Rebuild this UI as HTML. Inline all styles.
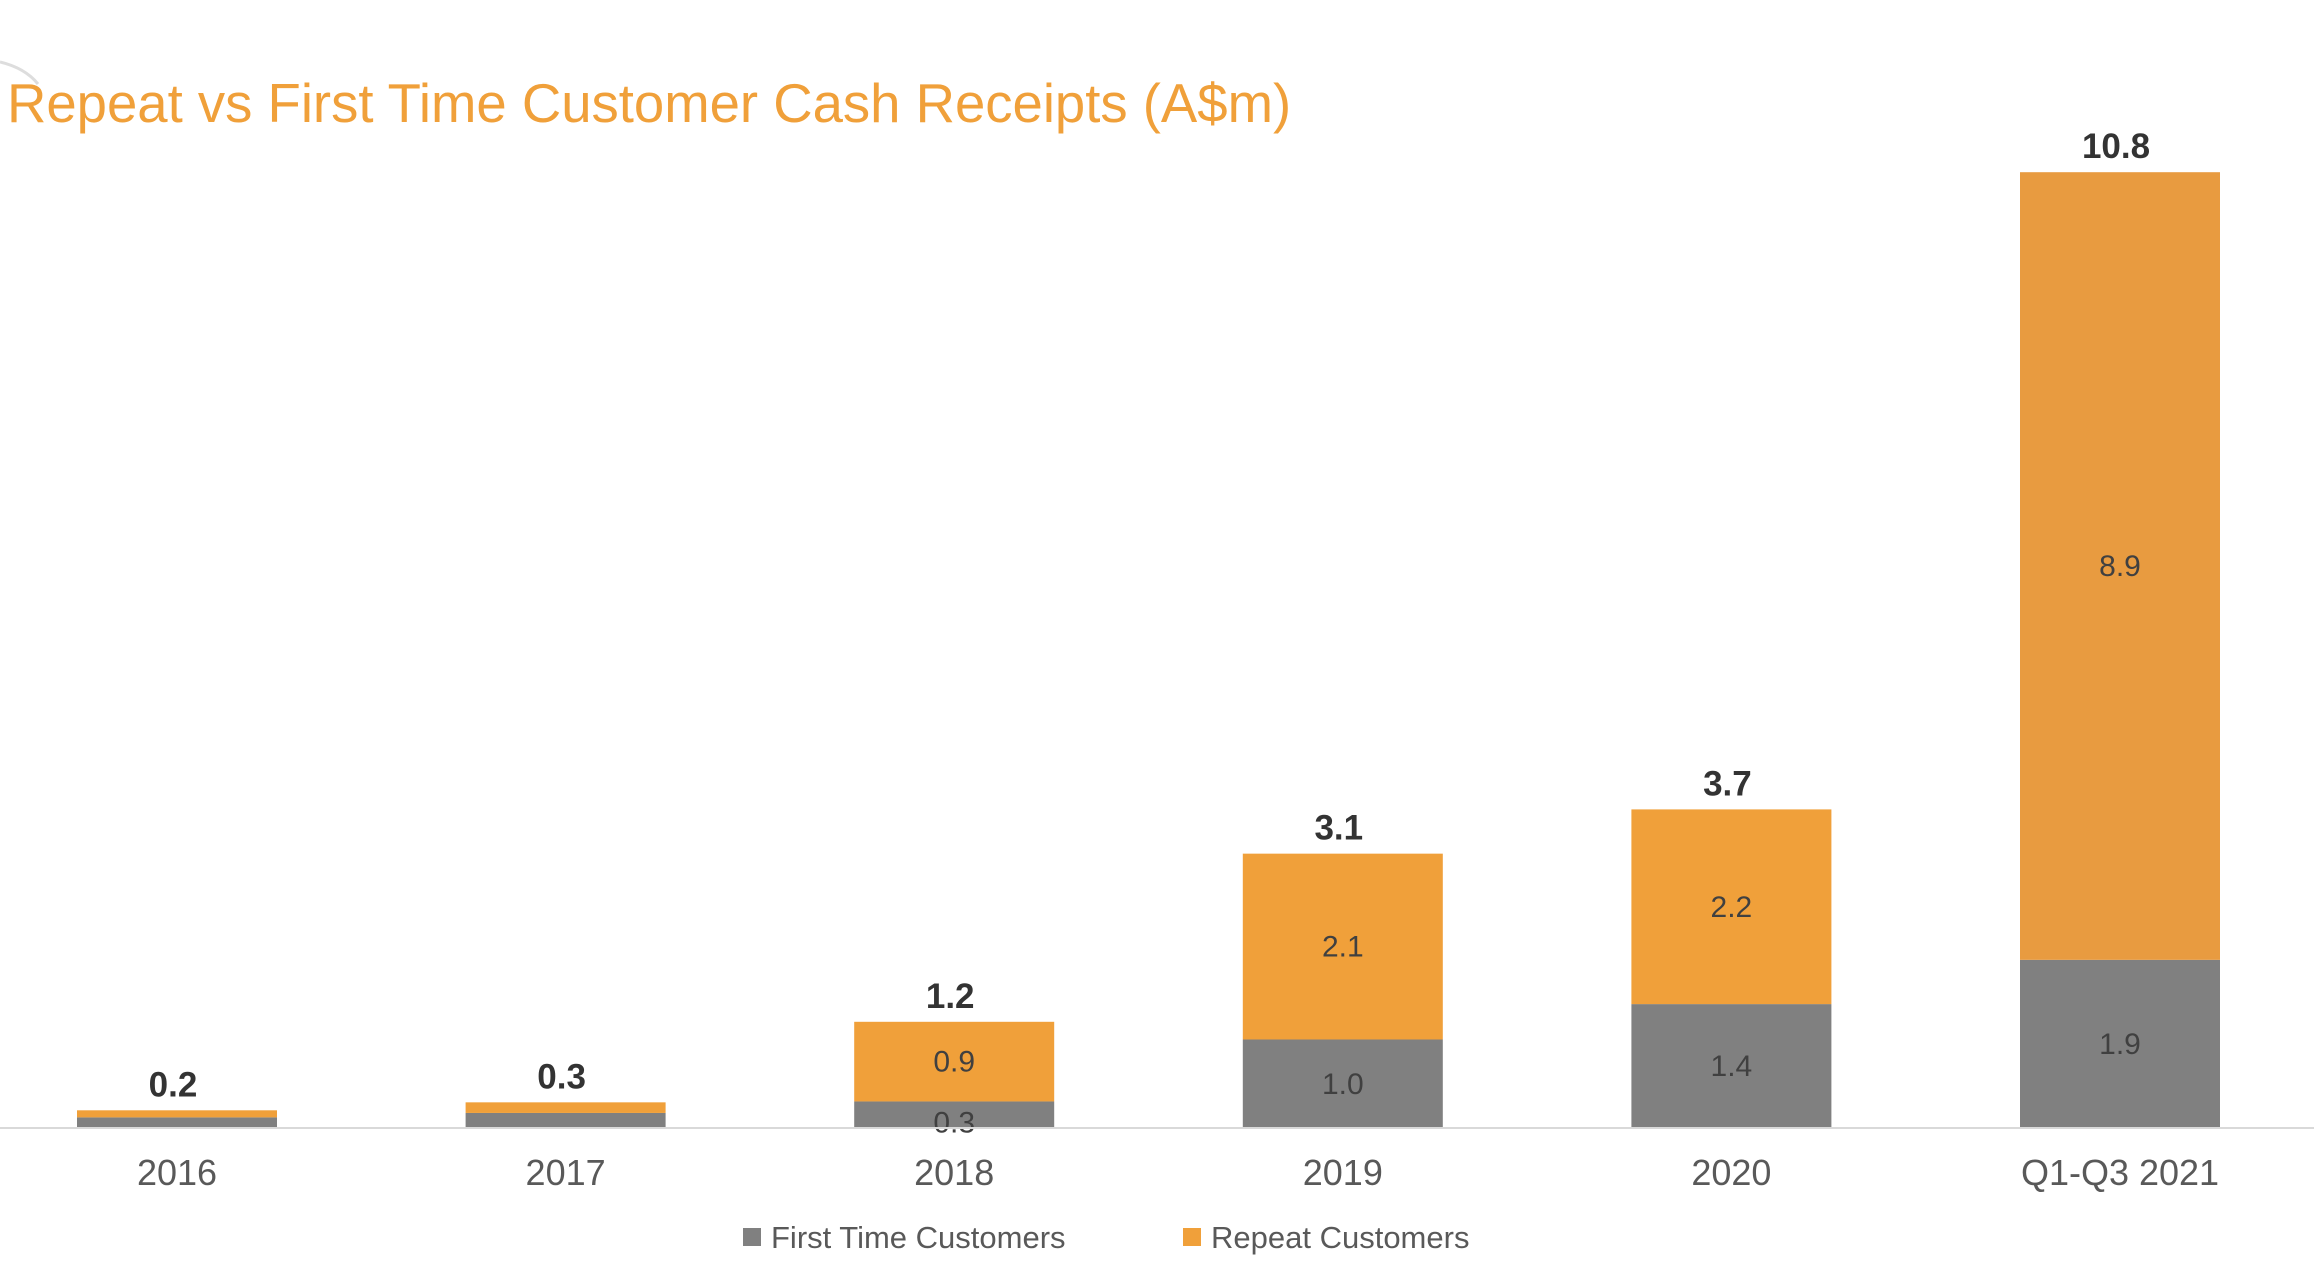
<!DOCTYPE html>
<html><head><meta charset="utf-8"><style>
html,body{margin:0;padding:0;background:#fff;}
svg{display:block;font-family:"Liberation Sans",sans-serif;}
</style></head><body>
<svg id="chart" width="2314" height="1272" viewBox="0 0 2314 1272">
<path d="M0,62 Q25,68 38,84" fill="none" stroke="#ddd" stroke-width="3"/>
<text x="7" y="122" font-size="54.5" fill="#F0A03A">Repeat vs First Time Customer Cash Receipts (A$m)</text>
<g id="bars"></g>
<line x1="0" y1="1128" x2="2314" y2="1128" stroke="#d9d9d9" stroke-width="2"/>
<g>
<rect x="743" y="1228" width="18" height="18" fill="#808080"/>
<text x="771" y="1248" font-size="31" fill="#595959">First Time Customers</text>
<rect x="1183" y="1228" width="18" height="18" fill="#F0A03A"/>
<text x="1211" y="1248" font-size="31" fill="#595959">Repeat Customers</text>
</g>
</svg>
<script>
const categories=["2016","2017","2018","2019","2020","Q1-Q3 2021"];
const firstTime=[0.12,0.17,0.3,1.0,1.4,1.9];
const repeat=[0.08,0.12,0.9,2.1,2.2,8.9];
const totals=[0.2,0.3,1.2,3.1,3.7,10.8];
const firstLabels=["","","0.3","1.0","1.4","1.9"];
const repeatLabels=["","","0.9","2.1","2.2","8.9"];
const baseY=1128, unit=88.5, x0=177, step=388.6, bw=200;
const y=v=>baseY-v*unit;
const xc=i=>x0+i*step;
const g=document.getElementById('bars');
const NS="http://www.w3.org/2000/svg";
function mk(tag,attrs,txt){const e=document.createElementNS(NS,tag);for(const k in attrs)e.setAttribute(k,attrs[k]);if(txt!==undefined)e.textContent=txt;g.appendChild(e);return e;}
categories.forEach((c,i)=>{
  const cx=xc(i);
  const f=firstTime[i], r=repeat[i];
  let e=mk('rect',{x:cx-bw/2,y:y(f),width:bw,height:f*unit,fill:'#808080'});
  
  
  e=mk('rect',{x:cx-bw/2,y:y(f+r),width:bw,height:r*unit,fill:i==5?'#E89B40':'#F0A03A'});
  
  
  if(firstLabels[i]){
    e=mk('text',{x:cx,y:y(f/2)+10+(f<0.5?8:0),'font-size':30,'text-anchor':'middle',fill:'#404040'},firstLabels[i]);
    
    
  }
  if(repeatLabels[i]){
    e=mk('text',{x:cx,y:y(f+r/2)+10,'font-size':30,'text-anchor':'middle',fill:'#404040'},repeatLabels[i]);
    
    
  }
  e=mk('text',{x:cx-4,y:y(f+r)-14,'font-size':35,'font-weight':'bold','text-anchor':'middle',fill:'#333'},totals[i].toFixed(1));
  
  
  e=mk('text',{x:cx,y:1185,'font-size':36,'text-anchor':'middle',fill:'#595959'},c);
  
  
});
</script>
</body></html>
